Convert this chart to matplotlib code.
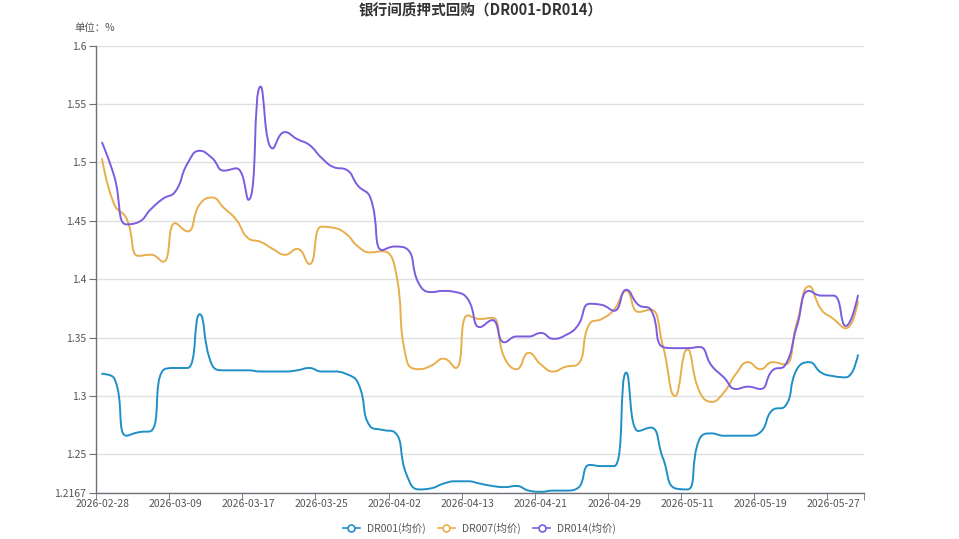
import numpy as np
import matplotlib
matplotlib.use("Agg")
import matplotlib.pyplot as plt
from matplotlib.path import Path
from matplotlib.patches import PathPatch
from matplotlib.lines import Line2D

plt.rcParams['font.family'] = ['Noto Sans CJK SC', 'DejaVu Sans']

# trading days (category axis)
dates = ["2026-02-28",
         "2026-03-02", "2026-03-03", "2026-03-04", "2026-03-05", "2026-03-06",
         "2026-03-09", "2026-03-10", "2026-03-11", "2026-03-12", "2026-03-13",
         "2026-03-16", "2026-03-17", "2026-03-18", "2026-03-19", "2026-03-20",
         "2026-03-23", "2026-03-24", "2026-03-25", "2026-03-26", "2026-03-27",
         "2026-03-30", "2026-03-31", "2026-04-01", "2026-04-02", "2026-04-03",
         "2026-04-07", "2026-04-08", "2026-04-09", "2026-04-10",
         "2026-04-13", "2026-04-14", "2026-04-15", "2026-04-16", "2026-04-17",
         "2026-04-20", "2026-04-21", "2026-04-22", "2026-04-23", "2026-04-24",
         "2026-04-27", "2026-04-28", "2026-04-29", "2026-04-30",
         "2026-05-06", "2026-05-07", "2026-05-08", "2026-05-09",
         "2026-05-11", "2026-05-12", "2026-05-13", "2026-05-14", "2026-05-15",
         "2026-05-18", "2026-05-19", "2026-05-20", "2026-05-21", "2026-05-22",
         "2026-05-25", "2026-05-26", "2026-05-27", "2026-05-28", "2026-05-29"]

dr001 = [1.319, 1.315, 1.266, 1.269, 1.270, 1.322, 1.324, 1.324, 1.370, 1.327,
         1.322, 1.322, 1.322, 1.321, 1.321, 1.321, 1.322, 1.324, 1.321, 1.321,
         1.319, 1.311, 1.274, 1.271, 1.269, 1.232, 1.220, 1.221, 1.225, 1.227,
         1.227, 1.225, 1.223, 1.222, 1.223, 1.219, 1.218, 1.219, 1.219, 1.221,
         1.241, 1.240, 1.240, 1.320, 1.270, 1.273, 1.247, 1.221, 1.220, 1.263,
         1.268, 1.266, 1.266, 1.266, 1.269, 1.288, 1.291, 1.323, 1.329, 1.320,
         1.317, 1.316, 1.335]

dr007 = [1.503, 1.464, 1.452, 1.420, 1.421, 1.415, 1.448, 1.441, 1.464, 1.470,
         1.461, 1.451, 1.435, 1.432, 1.426, 1.421, 1.426, 1.413, 1.445, 1.444,
         1.439, 1.428, 1.423, 1.424, 1.411, 1.330, 1.323, 1.326, 1.332, 1.324,
         1.369, 1.366, 1.367, 1.333, 1.323, 1.337, 1.327, 1.321, 1.325, 1.327,
         1.362, 1.366, 1.374, 1.390, 1.372, 1.374, 1.343, 1.300, 1.340, 1.304,
         1.295, 1.303, 1.319, 1.329, 1.323, 1.329, 1.327, 1.363, 1.394, 1.374,
         1.366, 1.358, 1.381]

dr014 = [1.517, 1.488, 1.447, 1.449, 1.460, 1.469, 1.475, 1.499, 1.510, 1.504,
         1.493, 1.495, 1.468, 1.565, 1.512, 1.526, 1.520, 1.515, 1.504, 1.496,
         1.494, 1.480, 1.470, 1.425, 1.428, 1.426, 1.396, 1.389, 1.390, 1.389,
         1.383, 1.359, 1.365, 1.346, 1.351, 1.351, 1.354, 1.349, 1.352, 1.360,
         1.379, 1.378, 1.373, 1.391, 1.378, 1.374, 1.342, 1.341, 1.341, 1.342,
         1.326, 1.316, 1.306, 1.308, 1.306, 1.322, 1.326, 1.360, 1.390, 1.386,
         1.386, 1.360, 1.386]

names = ["DR001(均价)", "DR007(均价)", "DR014(均价)"]
colors = ["#1f8fc5", "#e8ae4c", "#7b5ce0"]
y_ticks = [1.2167, 1.25, 1.3, 1.35, 1.4, 1.45, 1.5, 1.55, 1.6]
y_labels = ["1.2167", "1.25", "1.3", "1.35", "1.4", "1.45", "1.5", "1.55", "1.6"]


def smooth_verts(pts, smooth=0.5):
    # same bezier smoothing as a "smooth: true" echarts line
    n = len(pts)
    verts = [tuple(pts[0])]
    codes = [Path.MOVETO]
    cp0 = tuple(pts[0])
    for k in range(1, n):
        x, y = pts[k]
        px, py = pts[k - 1]
        if k == n - 1:
            cp1 = (x, y)
            nxt = None
        else:
            nx, ny = pts[k + 1]
            vx, vy = nx - px, ny - py
            lp = np.hypot(x - px, y - py)
            ln = np.hypot(nx - x, ny - y)
            r = ln / (ln + lp)
            ncx = x + vx * smooth * r
            ncy = y + vy * smooth * r
            ncx = max(min(ncx, max(nx, x)), min(nx, x))
            ncy = max(min(ncy, max(ny, y)), min(ny, y))
            vx, vy = ncx - x, ncy - y
            c1x = x - vx * lp / ln
            c1y = y - vy * lp / ln
            c1x = max(min(c1x, max(px, x)), min(px, x))
            c1y = max(min(c1y, max(py, y)), min(py, y))
            vx, vy = x - c1x, y - c1y
            nxt = (x + vx * ln / lp, y + vy * ln / lp)
            cp1 = (c1x, c1y)
        verts += [cp0, cp1, (x, y)]
        codes += [Path.CURVE4] * 3
        cp0 = nxt
    return np.array(verts), codes


W, H = 959, 539
fig = plt.figure(figsize=(W / 100, H / 100), dpi=100)
ax = fig.add_axes([96 / W, 1 - 493.3 / H, 768 / W, 447.6 / H])

x = np.arange(len(dates))
ax.set_xlim(-0.5, len(dates) - 0.5)
ax.set_ylim(y_ticks[0], y_ticks[-1])

for vals, c in zip([dr001, dr007, dr014], colors):
    pix = ax.transData.transform(np.column_stack([x, vals]))
    v, codes = smooth_verts(pix)
    data_v = ax.transData.inverted().transform(v)
    ax.add_patch(PathPatch(Path(data_v, codes), fill=False, edgecolor=c,
                           lw=1.4, capstyle='round', joinstyle='round'))

# axes style
for s in ["top", "right"]:
    ax.spines[s].set_visible(False)
for s in ["left", "bottom"]:
    ax.spines[s].set_color("#6e7079")
    ax.spines[s].set_linewidth(1)

ax.set_yticks(y_ticks)
ax.set_yticklabels(y_labels)
ax.yaxis.grid(True, color="#e0e0e0", lw=1)
ax.set_axisbelow(True)
ax.tick_params(axis="y", length=5, color="#6e7079", labelsize=7.5,
               labelcolor="#555555", pad=2)

step = 6
ax.set_xticks(x[::step])
ax.set_xticklabels([dates[i] for i in x[::step]])
ax.set_xticks(list(np.arange(-0.5, len(dates), step)) + [len(dates) - 0.5], minor=True)
ax.tick_params(axis="x", which="major", length=0, labelsize=7.5,
               labelcolor="#555555", pad=4)
ax.tick_params(axis="x", which="minor", length=5, color="#6e7079")

fig.text(0.501, 1 - 10 / H, "银行间质押式回购（DR001-DR014）", ha="center",
         va="center", fontsize=10.5, fontweight="bold", color="#333333")
fig.text(74 / W, 1 - 28 / H, "单位：%", ha="left", va="center",
         fontsize=7.5, color="#555555")

handles = [Line2D([], [], color=c, lw=1.2, marker="o", markersize=5,
                  markerfacecolor="white", markeredgecolor=c, markeredgewidth=1.2)
           for c in colors]
fig.legend(handles, names, loc="center", bbox_to_anchor=(0.5, 1 - 528 / H),
           ncol=3, frameon=False, fontsize=7.5, handlelength=1.6,
           handletextpad=0.7, columnspacing=1.2, labelcolor="#555555")

fig.savefig("out.png", dpi=100)
